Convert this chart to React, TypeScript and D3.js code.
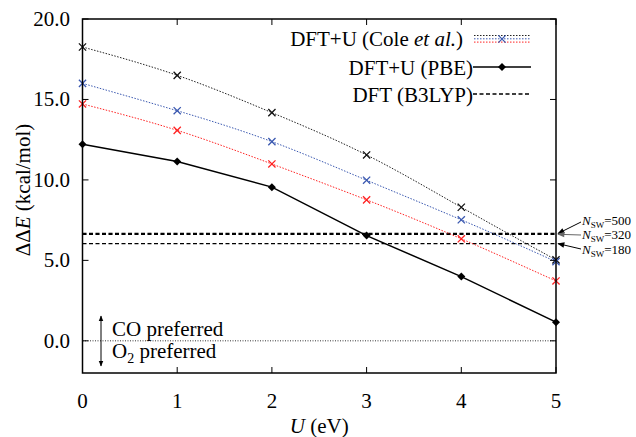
import React from "react";
import * as d3 from "d3";

const U = [0, 1, 2, 3, 4, 5];
const coleBlack = [18.26, 16.5, 14.18, 11.55, 8.3, 5.03];
const coleBlue = [16.0, 14.3, 12.38, 9.98, 7.52, 4.92];
const coleRed = [14.72, 13.08, 10.99, 8.76, 6.34, 3.72];
const pbe = [12.22, 11.15, 9.55, 6.54, 3.99, 1.16];
const b3lypN = ["500", "320", "180"];
const b3lypV = [6.67, 6.62, 6.04];
const xTicks = [0, 1, 2, 3, 4, 5];
const yTicks = [0, 5, 10, 15, 20];

const W = 636, H = 437;
const L = 82.5, R = 556, T = 19, B = 373;
const TS: React.CSSProperties = { fontFamily: '"Liberation Serif"' };

export default function App() {
  const x = d3.scaleLinear().domain([0, 5]).range([L, R]);
  const y = d3.scaleLinear().domain([-2, 20]).range([B, T]);
  const spline = d3.line<number>().x((_, i) => x(U[i])).y(d => y(d)).curve(d3.curveNatural);
  const straight = d3.line<number>().x((_, i) => x(U[i])).y(d => y(d));

  const cross = (cx: number, cy: number, color: string, key: string, s = 3.6) => (
    <path key={key} d={`M${cx - s},${cy - s}L${cx + s},${cy + s}M${cx - s},${cy + s}L${cx + s},${cy - s}`} stroke={color} strokeWidth={1.3} fill="none" />
  );
  const diamond = (cx: number, cy: number, key: string, s = 4) => (
    <path key={key} d={`M${cx},${cy - s}L${cx + s},${cy}L${cx},${cy + s}L${cx - s},${cy}Z`} fill="#000" />
  );

  const cole = [
    { data: coleBlack, color: "#222", mk: "#111" },
    { data: coleBlue, color: "#3a58b0", mk: "#3a58b0" },
    { data: coleRed, color: "#f22", mk: "#f22" },
  ];

  const tick = 6;
  const labelY = [225, 239, 254];
  const tailY = [222, 235, 249];
  const arrowCol = ["#000", "#666", "#000"];

  return (
    <svg width={W} height={H} style={{ position: "absolute", left: 0, top: 0, background: "#fff" }}>
      <defs>
        <marker id="ahb" viewBox="0 0 10 10" refX="9" refY="5" markerWidth="9" markerHeight="7" markerUnits="userSpaceOnUse" orient="auto">
          <path d="M0,1L10,5L0,9Z" fill="#000" />
        </marker>
        <marker id="ahg" viewBox="0 0 10 10" refX="9" refY="5" markerWidth="9" markerHeight="7" markerUnits="userSpaceOnUse" orient="auto">
          <path d="M0,1L10,5L0,9Z" fill="#666" />
        </marker>
        <marker id="ahs" viewBox="0 0 10 10" refX="9" refY="5" markerWidth="6" markerHeight="7" markerUnits="userSpaceOnUse" orient="auto-start-reverse">
          <path d="M0,1L10,5L0,9Z" fill="#000" />
        </marker>
      </defs>

      {/* zero line */}
      <line x1={L} x2={R} y1={y(0)} y2={y(0)} stroke="#000" strokeWidth={0.8} strokeDasharray="1,1.5" />

      {/* B3LYP dashed lines */}
      {b3lypV.map((v, i) => (
        <line key={"b" + i} x1={L} x2={R} y1={y(v)} y2={y(v)} stroke="#000" strokeWidth={1.3} strokeDasharray="4,2.5" />
      ))}

      {/* Cole series */}
      {cole.map((s, k) => (
        <g key={"c" + k}>
          <path d={spline(s.data) || ""} fill="none" stroke={s.color} strokeWidth={1} strokeDasharray="1.5,1.5" />
          {s.data.map((v, i) => cross(x(U[i]), y(v), s.mk, `m${k}-${i}`))}
        </g>
      ))}

      {/* PBE */}
      <path d={straight(pbe) || ""} fill="none" stroke="#000" strokeWidth={1.5} />
      {pbe.map((v, i) => diamond(x(U[i]), y(v), "d" + i))}

      {/* frame */}
      <rect x={L} y={T} width={R - L} height={B - T} fill="none" stroke="#000" strokeWidth={1.5} />

      {/* x ticks */}
      {xTicks.map(t => (
        <g key={"xt" + t}>
          <line x1={x(t)} x2={x(t)} y1={B} y2={B - tick} stroke="#000" strokeWidth={1} />
          <line x1={x(t)} x2={x(t)} y1={T} y2={T + tick} stroke="#000" strokeWidth={1} />
          <text x={x(t)} y={408} fontSize={21} textAnchor="middle" style={TS}>{t}</text>
        </g>
      ))}
      {/* y ticks */}
      {yTicks.map(t => (
        <g key={"yt" + t}>
          <line x1={L} x2={L + tick} y1={y(t)} y2={y(t)} stroke="#000" strokeWidth={1} />
          <line x1={R} x2={R - tick} y1={y(t)} y2={y(t)} stroke="#000" strokeWidth={1} />
          <text x={70} y={y(t) + 7} fontSize={21} textAnchor="end" style={TS}>{t.toFixed(1)}</text>
        </g>
      ))}

      {/* axis labels */}
      <text x={(L + R) / 2} y={433} fontSize={21} textAnchor="middle" style={TS}>
        <tspan fontStyle="italic">U</tspan> (eV)
      </text>
      <text transform={`translate(30,190) rotate(-90)`} fontSize={21} textAnchor="middle" style={TS}>
        ΔΔ<tspan fontStyle="italic">E</tspan> (kcal/mol)
      </text>

      {/* legend */}
      <text x={463} y={46} fontSize={21} textAnchor="end" style={TS}>
        DFT+U (Cole <tspan fontStyle="italic">et al.</tspan>)
      </text>
      {cole.map((s, k) => (
        <line key={"lg" + k} x1={474} x2={531} y1={35.5 + k * 3.3} y2={35.5 + k * 3.3} stroke={s.color} strokeWidth={1} strokeDasharray="1.5,1.5" />
      ))}
      {cross(502, 39, "#3a58b0", "lgx")}
      <text x={473} y={75} fontSize={21} textAnchor="end" style={TS}>DFT+U (PBE)</text>
      <line x1={473} x2={531} y1={67} y2={67} stroke="#000" strokeWidth={1.5} />
      {diamond(502, 67, "lgd")}
      <text x={473} y={102} fontSize={21} textAnchor="end" style={TS}>DFT (B3LYP)</text>
      <line x1={473} x2={531} y1={94} y2={94} stroke="#000" strokeWidth={1.3} strokeDasharray="4,2.5" />

      {/* CO / O2 preferred */}
      <line x1={101} x2={101} y1={316} y2={366} stroke="#000" strokeWidth={1} markerStart="url(#ahs)" markerEnd="url(#ahs)" />
      <text x={112} y={336} fontSize={21} style={TS}>CO preferred</text>
      <text x={112} y={358} fontSize={21} style={TS}>
        O<tspan fontSize={14} dy={5}>2</tspan><tspan dy={-5}> preferred</tspan>
      </text>

      {/* N_SW annotations */}
      {b3lypV.map((v, i) => (
        <g key={"n" + i}>
          <line x1={581} y1={tailY[i]} x2={558} y2={y(v)} stroke={arrowCol[i]} strokeWidth={1} markerEnd={i === 1 ? "url(#ahg)" : "url(#ahb)"} />
          <text x={582} y={labelY[i]} fontSize={13} style={TS}>
            <tspan fontStyle="italic">N</tspan>
            <tspan fontSize={9} dy={3}>SW</tspan>
            <tspan dy={-3}>={b3lypN[i]}</tspan>
          </text>
        </g>
      ))}
    </svg>
  );
}
